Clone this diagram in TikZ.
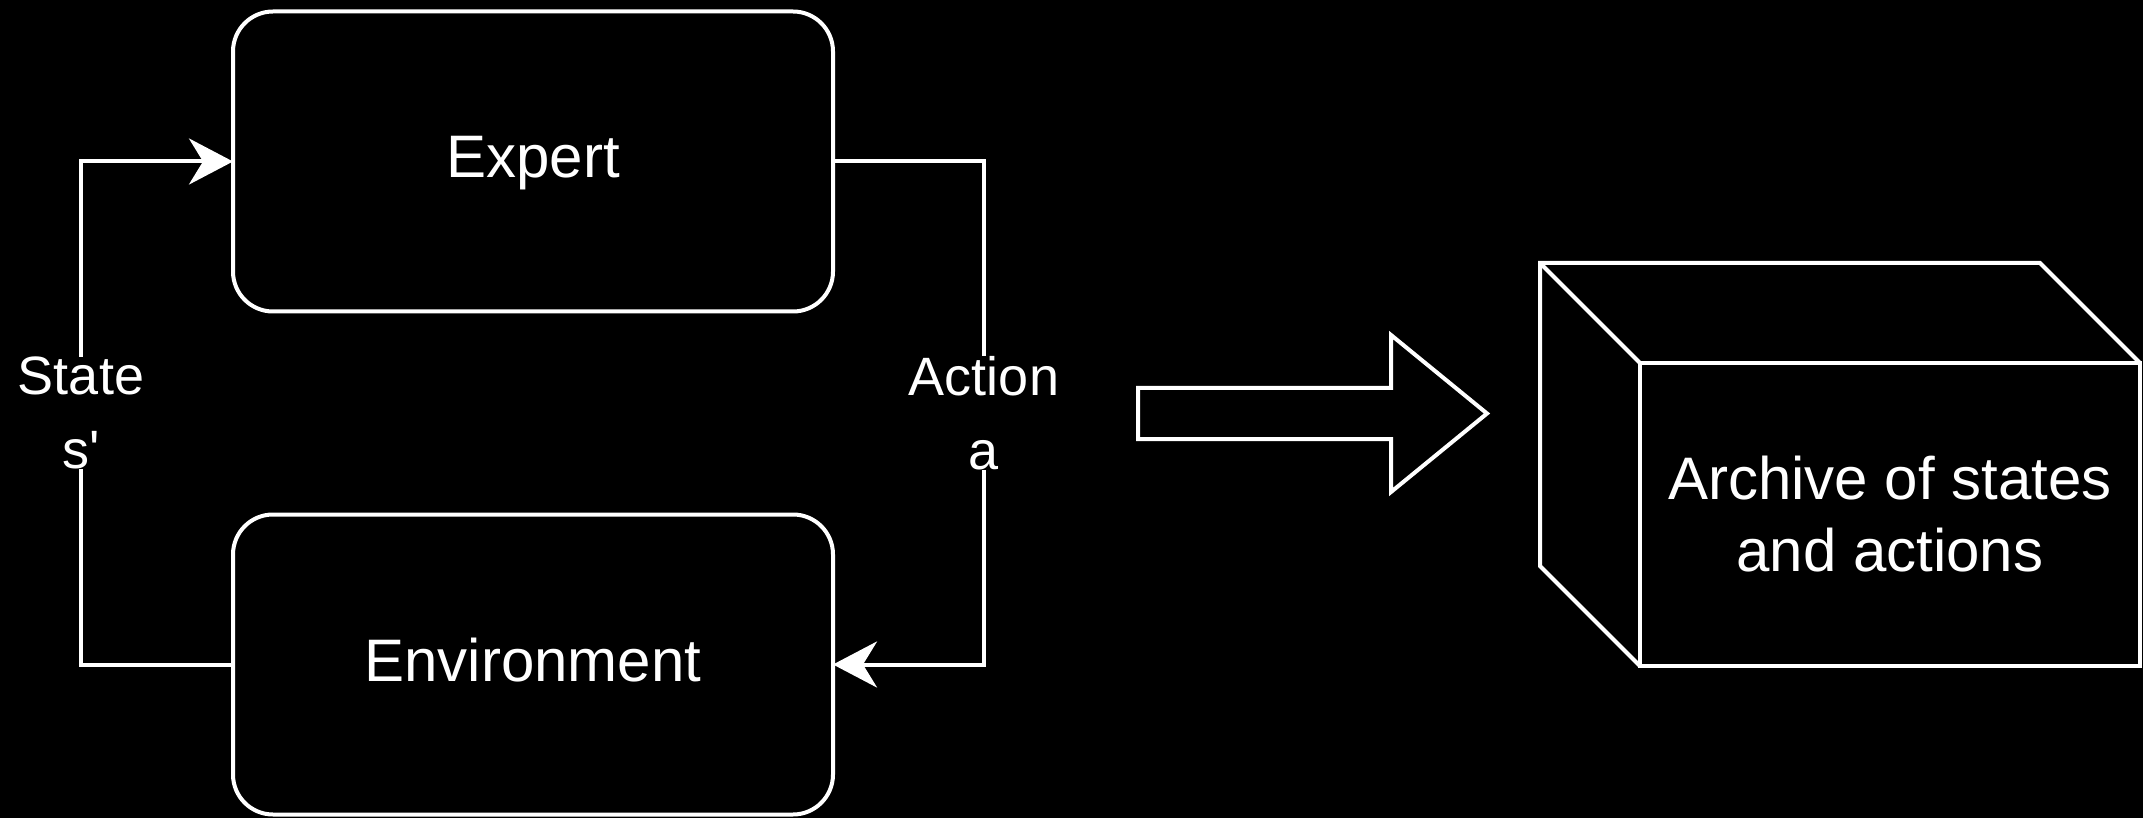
\documentclass[tikz,border=0pt]{standalone}
\usepackage{fontspec}
\setmainfont{Liberation Sans}
\usetikzlibrary{arrows.meta}
\tikzset{
	box/.style={draw=white,line width=2pt,text=white,minimum width=300pt,minimum height=150pt,outer sep=0pt,font=\fontsize{30}{36}\selectfont},
	roundbox/.style={box,rounded corners=20pt,text height=22pt,text depth=5.5pt},
	outline/.style={draw=white,line width=2pt,line join=miter},
	flow/.style={white,line width=2pt,-{Stealth[length=22pt,width=23pt,inset=7pt]}},
	flowlabel/.style={fill=black,text=white,inner xsep=2pt,inner ysep=0pt,align=center,font=\fontsize{27}{37}\selectfont}
}
\begin{document}
\begin{tikzpicture}[x=0.5pt,y=-0.5pt]
							\fill[black] (0,0) rectangle (2143,818);
							\useasboundingbox (0,0) rectangle (2143,818);
							\node[roundbox] (expert) at (533,161.5) {Expert};
							\node[roundbox] (env) at (533,664.5) {Environment};
							\draw[flow] (expert.east) -- ++(151,0) |- (env.east) node[flowlabel,pos=0.25]{Action\\a};
							\draw[flow] (env.west) -- ++(-152,0) |- (expert.west) node[flowlabel,pos=0.25]{State\\s\textquotesingle};
							\draw[outline] (1138,388) -- (1391,388) -- (1391,335) -- (1487,413.5) -- (1391,492) -- (1391,439) -- (1138,439) -- cycle;
							\node[box,minimum width=250pt,minimum height=151.5pt,align=center] (archive) at (1890,514.5) {Archive of states\\and actions};
							\draw[outline] (archive.south west) -- ++(-100,-100) coordinate (backbl) -- ++(0,-303) coordinate (backtl) -- ++(500,0) coordinate (backtr) -- (archive.north east);
							\draw[outline] (backtl) -- (archive.north west);
						\end{tikzpicture}
\end{document}
